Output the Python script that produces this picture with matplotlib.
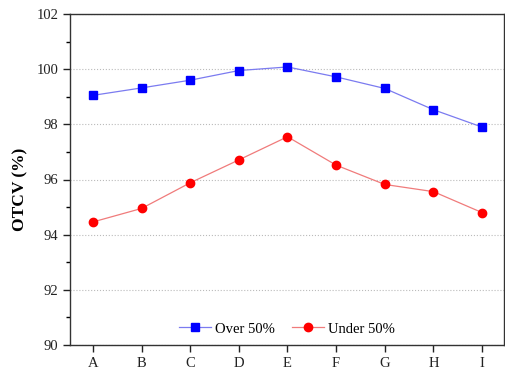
import matplotlib
matplotlib.use("Agg")
import matplotlib.pyplot as plt
from matplotlib.ticker import MultipleLocator

categories = ["A", "B", "C", "D", "E", "F", "G", "H", "I"]
over_50 = [99.05, 99.32, 99.60, 99.95, 100.08, 99.72, 99.30, 98.53, 97.90]
under_50 = [94.46, 94.95, 95.88, 96.71, 97.55, 96.52, 95.82, 95.56, 94.80]

plt.rcParams["font.family"] = ["Liberation Serif", "DejaVu Serif"]

fig = plt.figure(figsize=(5.06, 3.72), dpi=100)
ax = fig.add_axes([70 / 506, 27 / 372, 434 / 506, 331 / 372])

x = list(range(len(categories)))
ax.plot(x, over_50, color="#7b7bf0", lw=0.9, marker="s", ms=5.4,
        mfc="#0000ff", mec="#0000ff", label="Over 50%")
ax.plot(x, under_50, color="#f07b7b", lw=0.9, marker="o", ms=6.0,
        mfc="#ff0000", mec="#ff0000", label="Under 50%")

ax.set_xlim(-0.47, 8.45)
ax.set_ylim(90, 102)
ax.set_xticks(x)
ax.set_xticklabels(categories)
ax.yaxis.set_major_locator(MultipleLocator(2))
ax.yaxis.set_minor_locator(MultipleLocator(1))
ax.tick_params(axis="both", which="major", direction="out", length=5,
               width=1, labelsize=10.5, colors="#222222")
ax.tick_params(axis="y", which="minor", direction="out", length=3, width=1)
ax.grid(axis="y", which="major", color="#bbbbbb", ls=":", lw=0.8)
for s in ax.spines.values():
    s.set_linewidth(1.0)
    s.set_color("#333333")

ax.set_ylabel("OTCV (%)", fontsize=12.5, fontweight="bold")
ax.yaxis.set_label_coords(-0.097, 0.47)

ax.legend(loc="lower center", ncol=2, frameon=False, fontsize=10.5,
          bbox_to_anchor=(0.5, 0.0), borderaxespad=0.25,
          handlelength=2.2, columnspacing=1.2, handletextpad=0.27)

fig.savefig("out.png", dpi=100)
